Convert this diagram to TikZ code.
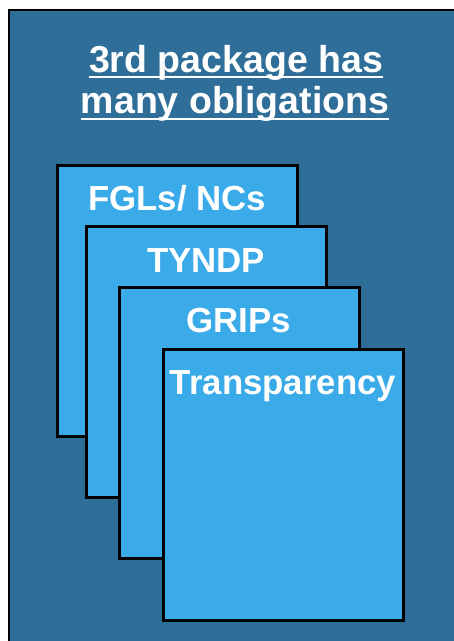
\documentclass[tikz,border=0pt]{standalone}
\usepackage{fontspec}
\setmainfont{Liberation Sans}
\usetikzlibrary{positioning}

\definecolor{panelblue}{RGB}{47,110,152}
\definecolor{cardblue}{RGB}{58,170,232}

\tikzset{
    card/.style={draw=black, fill=cardblue, line width=3pt, inner sep=0pt,
        minimum width=240pt, minimum height=271pt, anchor=north west},
    cardlabel/.style={text=white, inner sep=0pt, anchor=base,
        font=\bfseries\fontsize{34.8}{42}\selectfont},
    titleline/.style={text=white, inner sep=0pt, anchor=base,
        font=\bfseries\fontsize{37.5}{45}\selectfont}
}

\begin{document}
\begin{tikzpicture}[x=1pt, y=-1pt]
        \useasboundingbox (0, 0) rectangle (454, 641);
        \fill[white] (0, 0) rectangle (454, 641);

        \draw[fill=panelblue, line width=2pt] (9, 10) rectangle (470, 660);

        \node[titleline] (title1) at (236, 72) {3rd package has};
        \node[titleline] (title2) at (235, 113) {many obligations};
        \draw[white, line width=2pt] ([yshift=-5pt]title1.base west)
            -- ([yshift=-5pt]title1.base east);
        \draw[white, line width=2pt] ([yshift=-6pt]title2.base west)
            -- ([yshift=-6pt]title2.base east);

        \node[card] (fgl) at (55.5, 163.5) {};
        \node[cardlabel] (fgltext) at ([yshift=-47pt]fgl.north) {FGLs/ NCs};

        \node[card] (tyndp) at (84.5, 224.5) {};
        \node[cardlabel] (tyndptext) at ([yshift=-48pt]tyndp.north) {TYNDP};

        \node[card] (grips) at (117.5, 285.5) {};
        \node[cardlabel] (gripstext) at ([yshift=-47pt]grips.north) {GRIPs};

        \node[card] (transp) at (161.5, 347.5) {};
        \node[cardlabel] (transptext) at ([yshift=-47pt]transp.north)
            {Transparency};

    \end{tikzpicture}
\end{document}
